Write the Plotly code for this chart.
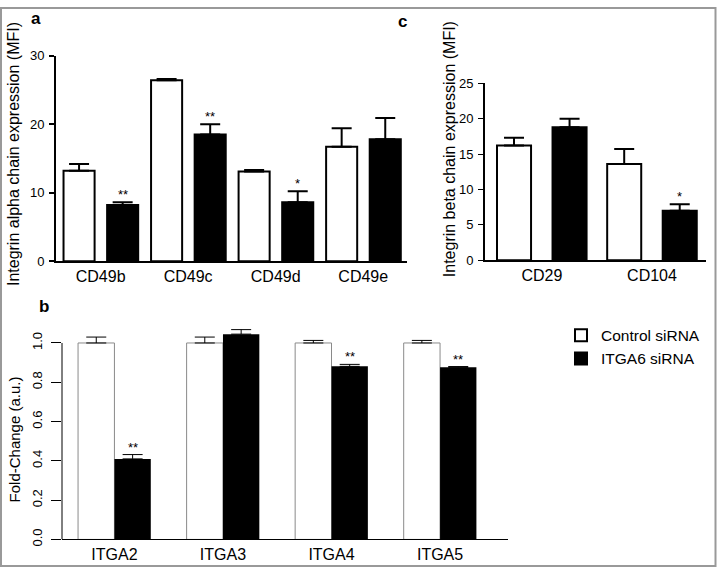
import plotly.graph_objects as go

FONT = "Liberation Sans, Arial, sans-serif"

# ---- Panel a: integrin alpha chains (MFI)
alpha_cats = ["CD49b", "CD49c", "CD49d", "CD49e"]
alpha_ctrl = [13.2, 26.4, 13.1, 16.7]
alpha_ctrl_err = [1.0, 0.2, 0.2, 2.7]
alpha_kd = [8.2, 18.5, 8.6, 17.8]
alpha_kd_err = [0.4, 1.5, 1.6, 3.1]
alpha_sig = ["**", "**", "*", ""]
alpha_ticks = [0, 10, 20, 30]

# ---- Panel b: mRNA fold-change
mrna_cats = ["ITGA2", "ITGA3", "ITGA4", "ITGA5"]
mrna_ctrl = [1.0, 1.0, 1.0, 1.0]
mrna_ctrl_err = [0.03, 0.03, 0.013, 0.013]
mrna_kd = [0.41, 1.045, 0.881, 0.876]
mrna_kd_err = [0.022, 0.023, 0.01, 0.004]
mrna_sig = ["**", "", "**", "**"]
mrna_ticks = [0.0, 0.2, 0.4, 0.6, 0.8, 1.0]

# ---- Panel c: integrin beta chains (MFI)
beta_cats = ["CD29", "CD104"]
beta_ctrl = [16.2, 13.6]
beta_ctrl_err = [1.1, 2.1]
beta_kd = [18.8, 7.0]
beta_kd_err = [1.2, 0.9]
beta_sig = ["", "*"]
beta_ticks = [0, 5, 10, 15, 20, 25]

series_names = ["Control siRNA", "ITGA6 siRNA"]

W, H = 717, 575


def px_x(p):
    return p / W


def px_y(p):
    return 1 - p / H


fig = go.Figure()

# bar geometry (data units relative to category centre)
a_w = 0.355
a_off = [-0.424, 0.074]
c_w = 0.309
c_off = [-0.407, 0.097]
b_w = 0.335
b_off = [-0.335, 0.0]


def err(arr, thick, width=10):
    return dict(type="data", array=arr, arrayminus=[0] * len(arr), symmetric=False,
                color="black", thickness=thick, width=width)


# Panel a
fig.add_trace(go.Bar(x=alpha_cats, y=alpha_ctrl, name=series_names[0], width=a_w, offset=a_off[0],
                     marker=dict(color="white", line=dict(color="black", width=2)),
                     error_y=err(alpha_ctrl_err, 2), xaxis="x", yaxis="y", showlegend=True))
fig.add_trace(go.Bar(x=alpha_cats, y=alpha_kd, name=series_names[1], width=a_w, offset=a_off[1],
                     marker=dict(color="black", line=dict(color="black", width=2)),
                     error_y=err(alpha_kd_err, 2), xaxis="x", yaxis="y", showlegend=True))
# Panel b
fig.add_trace(go.Bar(x=mrna_cats, y=mrna_ctrl, name=series_names[0], width=b_w, offset=b_off[0],
                     marker=dict(color="white", line=dict(color="#8a8a8a", width=1)),
                     error_y=err(mrna_ctrl_err, 1), xaxis="x2", yaxis="y2", showlegend=False))
fig.add_trace(go.Bar(x=mrna_cats, y=mrna_kd, name=series_names[1], width=b_w, offset=b_off[1],
                     marker=dict(color="black", line=dict(color="black", width=0)),
                     error_y=err(mrna_kd_err, 1), xaxis="x2", yaxis="y2", showlegend=False))
# Panel c
fig.add_trace(go.Bar(x=beta_cats, y=beta_ctrl, name=series_names[0], width=c_w, offset=c_off[0],
                     marker=dict(color="white", line=dict(color="black", width=2)),
                     error_y=err(beta_ctrl_err, 2), xaxis="x3", yaxis="y3", showlegend=False))
fig.add_trace(go.Bar(x=beta_cats, y=beta_kd, name=series_names[1], width=c_w, offset=c_off[1],
                     marker=dict(color="black", line=dict(color="black", width=2)),
                     error_y=err(beta_kd_err, 2), xaxis="x3", yaxis="y3", showlegend=False))

annotations = []


def add_sig(cats, vals, errs, sigs, off, w, xr, yr, size=13):
    for i, (v, e, s) in enumerate(zip(vals, errs, sigs)):
        if s:
            annotations.append(dict(x=i + off + w / 2, y=v + e, xref=xr, yref=yr, text=s,
                                    showarrow=False, yanchor="bottom", xanchor="center",
                                    yshift=-2, font=dict(family=FONT, size=size, color="black")))


add_sig(alpha_cats, alpha_kd, alpha_kd_err, alpha_sig, a_off[1], a_w, "x", "y")
add_sig(mrna_cats, mrna_kd, mrna_kd_err, mrna_sig, b_off[1], b_w, "x2", "y2")
add_sig(beta_cats, beta_kd, beta_kd_err, beta_sig, c_off[1], c_w, "x3", "y3")

# panel letters
for t, x, y in [("a", 36, 12), ("c", 402, 15), ("b", 44, 308)]:
    annotations.append(dict(x=px_x(x), y=px_y(y), xref="paper", yref="paper", text=t,
                            showarrow=False, xanchor="center", yanchor="middle",
                            font=dict(family=FONT, size=17, color="black", weight="bold")))

# axis titles
for t, x, y, s in [("Integrin alpha chain expression (MFI)", 13, 151, 16),
                   ("Integrin beta chain expression (MFI)", 449, 146, 16),
                   ("Fold-Change (a.u.)", 14, 444, 15)]:
    annotations.append(dict(x=px_x(x), y=px_y(y), xref="paper", yref="paper", text=t,
                            textangle=-90, showarrow=False, xanchor="center", yanchor="middle",
                            font=dict(family=FONT, size=s, color="black")))

tickfont = dict(family=FONT, size=13, color="black")
catfont = dict(family=FONT, size=16, color="black")

fig.update_layout(
    width=W, height=H, autosize=False,
    margin=dict(l=0, r=0, t=0, b=0),
    paper_bgcolor="white", plot_bgcolor="rgba(0,0,0,0)",
    barmode="overlay",
    font=dict(family=FONT),
    annotations=annotations,
    legend=dict(x=px_x(561), y=px_y(320), xanchor="left", yanchor="top",
                font=dict(family=FONT, size=15.5, color="black"), bgcolor="rgba(0,0,0,0)",
                tracegroupgap=0),
    xaxis=dict(domain=[px_x(56), px_x(407)], range=[-0.51, 3.5], anchor="y",
               showline=True, linecolor="black", linewidth=2, ticks="", showgrid=False,
               tickfont=catfont, zeroline=False, fixedrange=True, ticklabelstandoff=0),
    yaxis=dict(domain=[px_y(261), px_y(50)], range=[0, 30], anchor="x",
               showline=True, linecolor="black", linewidth=2, ticks="outside", ticklen=5,
               tickwidth=2, tickcolor="black", tickvals=alpha_ticks, showgrid=False,
               zeroline=False, tickfont=tickfont, ticklabelstandoff=2),
    xaxis2=dict(domain=[px_x(62), px_x(508)], range=[-0.483, 3.626], anchor="y2",
                showline=True, linecolor="black", linewidth=1, ticks="", showgrid=False,
                tickfont=catfont, zeroline=False, ticklabelstandoff=0),
    yaxis2=dict(domain=[px_y(546.7), px_y(324.8)], range=[0, 1.1], anchor="x2",
                showline=False, ticks="outside", ticklen=10, tickwidth=1, tickcolor="black",
                tickvals=mrna_ticks, tickformat=".1f", tickangle=-90, showgrid=False,
                zeroline=False, tickfont=tickfont, ticklabelstandoff=4),
    xaxis3=dict(domain=[px_x(485), px_x(706)], range=[-0.516, 1.49], anchor="y3",
                showline=True, linecolor="black", linewidth=2, ticks="", showgrid=False,
                tickfont=catfont, zeroline=False, ticklabelstandoff=0),
    yaxis3=dict(domain=[px_y(260), px_y(78.3)], range=[0, 25], anchor="x3",
                showline=True, linecolor="black", linewidth=2, ticks="outside", ticklen=5,
                tickwidth=1, tickcolor="black", tickvals=beta_ticks, showgrid=False,
                zeroline=False, tickfont=tickfont, ticklabelstandoff=2),
    shapes=[
        # panel b y-axis line spans 0..1 only
        dict(type="line", xref="x2 domain", yref="y2", x0=0, x1=0,
             y0=mrna_ticks[0], y1=mrna_ticks[-1], line=dict(color="black", width=1)),
        # outer frame
        dict(type="rect", xref="paper", yref="paper", x0=px_x(1), x1=px_x(715.5),
             y0=px_y(574), y1=px_y(1), line=dict(color="#999999", width=2), layer="above"),
    ],
)

fig.write_html("out.html", config={"displayModeBar": False},
               post_script="document.body.style.margin='0';document.body.style.overflow='hidden';")
